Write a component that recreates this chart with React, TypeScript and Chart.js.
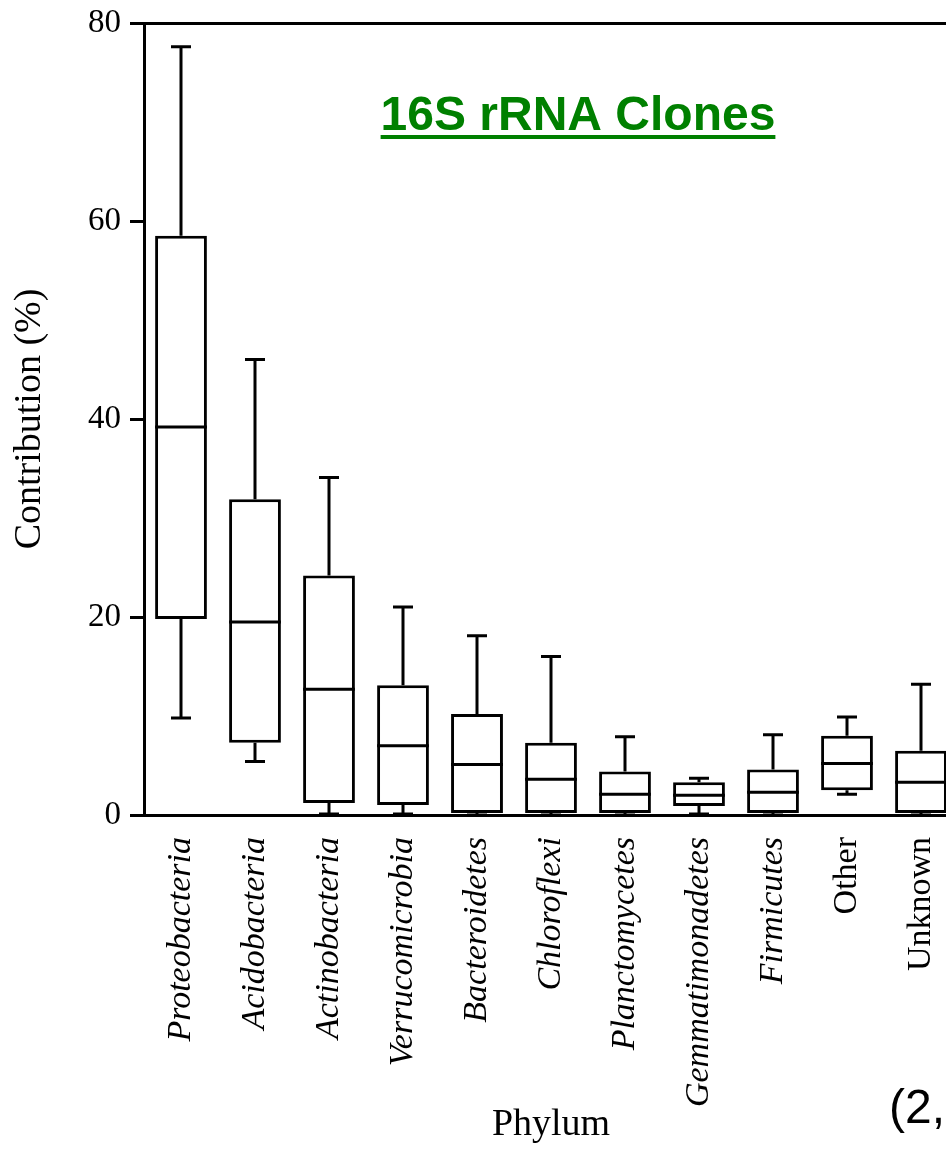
import React, { useEffect, useRef } from "react";
import { Chart, registerables } from "chart.js";

Chart.register(...registerables);

const categories = [
  "Proteobacteria",
  "Acidobacteria",
  "Actinobacteria",
  "Verrucomicrobia",
  "Bacteroidetes",
  "Chloroflexi",
  "Planctomycetes",
  "Gemmatimonadetes",
  "Firmicutes",
  "Other",
  "Unknown",
];
const whiskerMax = [77.6, 46.0, 34.1, 21.0, 18.1, 16.0, 7.9, 3.7, 8.1, 9.9, 13.2];
const q3 = [58.5, 31.9, 24.2, 13.1, 10.2, 7.3, 4.4, 3.3, 4.6, 8.0, 6.5];
const median = [39.2, 19.5, 12.7, 7.0, 5.1, 3.6, 2.1, 2.0, 2.3, 5.2, 3.3];
const q1 = [19.8, 7.3, 1.2, 1.0, 0.2, 0.2, 0.2, 0.9, 0.2, 2.5, 0.2];
const whiskerMin = [9.8, 5.4, 0.1, 0.1, 0, 0, 0, 0.1, 0, 2.1, 0];
const uprightLabels = ["Other", "Unknown"];
const yTicks = [0, 20, 40, 60, 80];

const titleText = "16S rRNA Clones";
const cornerText = "(2,9)";

const boxPlugin = {
  id: "boxWhiskers",
  afterDatasetsDraw(chart: any) {
    const ctx = chart.ctx;
    const x = chart.scales.x;
    const y = chart.scales.y;
    const meta = chart.getDatasetMeta(0);
    ctx.save();
    ctx.strokeStyle = "#000";
    ctx.lineWidth = 3;
    ctx.lineCap = "butt";
    categories.forEach((_, i) => {
      const cx = x.getPixelForValue(i);
      const bw = meta.data[i].width;
      const capW = 20;
      const yMax = y.getPixelForValue(whiskerMax[i]);
      const yQ3 = y.getPixelForValue(q3[i]);
      const yMed = y.getPixelForValue(median[i]);
      const yQ1 = y.getPixelForValue(q1[i]);
      const yMin = y.getPixelForValue(whiskerMin[i]);
      ctx.beginPath();
      ctx.moveTo(cx, yQ3);
      ctx.lineTo(cx, yMax);
      ctx.moveTo(cx - capW / 2, yMax);
      ctx.lineTo(cx + capW / 2, yMax);
      ctx.moveTo(cx, yQ1);
      ctx.lineTo(cx, yMin);
      ctx.moveTo(cx - capW / 2, yMin);
      ctx.lineTo(cx + capW / 2, yMin);
      ctx.moveTo(cx - bw / 2, yMed);
      ctx.lineTo(cx + bw / 2, yMed);
      ctx.stroke();
    });
    ctx.restore();
  },
  afterDraw(chart: any) {
    const ctx = chart.ctx;
    ctx.save();
    ctx.font = "bold 48px 'Liberation Sans', Arial, sans-serif";
    ctx.fillStyle = "#008000";
    ctx.textAlign = "center";
    ctx.textBaseline = "alphabetic";
    const tx = 578;
    const ty = 130;
    ctx.fillText(titleText, tx, ty);
    const w = ctx.measureText(titleText).width;
    ctx.fillRect(tx - w / 2, 135, w, 4);
    ctx.font = "48px 'Liberation Sans', Arial, sans-serif";
    ctx.fillStyle = "#000";
    ctx.textAlign = "left";
    ctx.fillText(cornerText, 889, 1123);
    ctx.restore();
  },
};

export default function App() {
  const ref = useRef<HTMLCanvasElement>(null);
  useEffect(() => {
    if (!ref.current) return;
    const chart = new Chart(ref.current, {
      type: "bar",
      data: {
        labels: categories,
        datasets: [
          {
            data: categories.map((_, i) => [q1[i], q3[i]]) as any,
            backgroundColor: "#fff",
            borderColor: "#000",
            borderWidth: 3,
            borderSkipped: false,
            barPercentage: 0.7,
            categoryPercentage: 1,
          },
        ],
      },
      options: {
        animation: false,
        responsive: false,
        devicePixelRatio: 1,
        layout: { padding: { left: 0, right: 42, top: 23, bottom: 0 } },
        plugins: { legend: { display: false }, tooltip: { enabled: false } },
        scales: {
          x: {
            type: "category",
            offset: true,
            grid: { display: false, drawTicks: false },
            border: { display: true, color: "#000", width: 3 },
            ticks: {
              autoSkip: false,
              minRotation: 90,
              maxRotation: 90,
              padding: 22,
              color: "#000",
              font: (c: any) => ({
                family: "'Liberation Serif', 'Times New Roman', serif",
                size: 34,
                style: c.tick && uprightLabels.includes(c.tick.label) ? "normal" : "italic",
              }),
            },
            title: {
              display: true,
              text: "Phylum",
              color: "#000",
              font: { family: "'Liberation Serif', 'Times New Roman', serif", size: 38 },
              padding: { top: 0, bottom: 3 },
            },
            afterFit: (s: any) => {
              s.height = 336;
            },
          },
          y: {
            min: 0,
            max: 80,
            afterBuildTicks: (s: any) => {
              s.ticks = yTicks.map((v) => ({ value: v }));
            },
            grid: {
              color: (c: any) => (c.tick && c.tick.value === 80 ? "#000" : "rgba(0,0,0,0)"),
              lineWidth: 3,
              tickColor: "#000",
              tickLength: 14,
              tickWidth: 3,
            },
            border: { display: true, color: "#000", width: 3 },
            ticks: {
              padding: 9,
              color: "#000",
              font: { family: "'Liberation Serif', 'Times New Roman', serif", size: 33, lineHeight: 0.7 },
            },
            title: {
              display: true,
              text: "Contribution (%)",
              color: "#000",
              font: { family: "'Liberation Serif', 'Times New Roman', serif", size: 38 },
              padding: { top: 7, bottom: 0 },
            },
            afterFit: (s: any) => {
              s.width = 144;
            },
          },
        },
      },
      plugins: [boxPlugin],
    });
    return () => chart.destroy();
  }, []);
  return (
    <div
      style={{
        position: "fixed",
        left: 0,
        top: 0,
        width: 946,
        height: 1151,
        overflow: "hidden",
        background: "#fff",
      }}
    >
      <canvas ref={ref} width={1000} height={1151} style={{ display: "block", width: 1000, height: 1151 }} />
    </div>
  );
}
